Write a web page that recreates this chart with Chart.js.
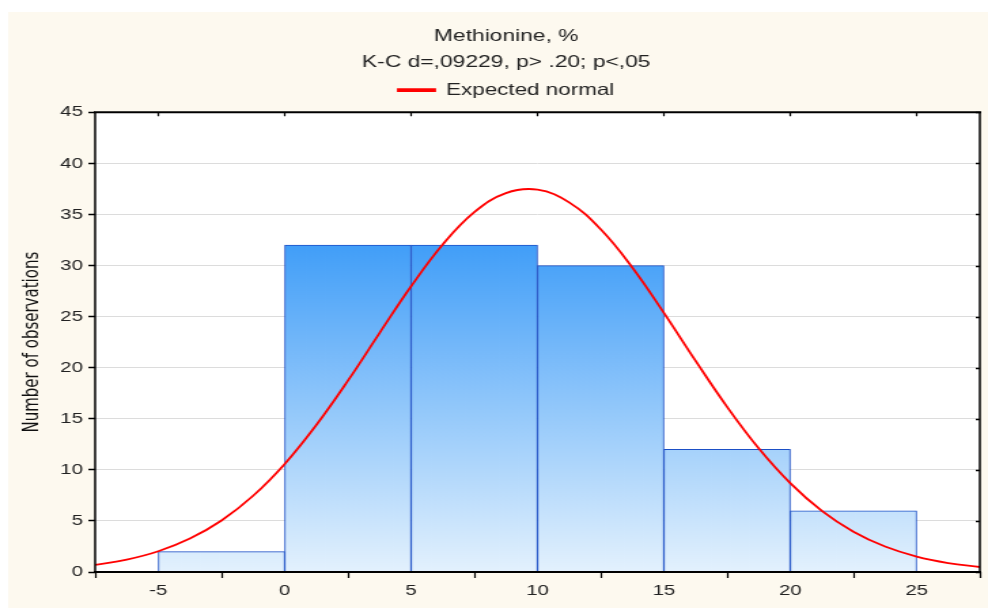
<!DOCTYPE html>
<html>
<head>
<meta charset="utf-8">
<script src="https://cdn.jsdelivr.net/npm/chart.js@4.4.1/dist/chart.umd.min.js"></script>
<style>
  html, body { margin: 0; padding: 0; background: #fff; overflow: hidden; }
  #wrap { width: 988px; height: 608px; overflow: hidden; }
  /* the original picture is stretched sideways, so draw narrow and widen */
  #histChart { transform-origin: 0 0; transform: scaleX(1.359); }
</style>
</head>
<body>
<div id="wrap"><canvas id="histChart" width="727" height="608"></canvas></div>
<script>
// histogram bins (centres, width 5) and counts
const binCenters = [-2.5, 2.5, 7.5, 12.5, 17.5, 22.5];
const counts = [2, 32, 32, 30, 12, 6];

// expected normal curve, every 1.25
const curveX = [-7.5, -6.25, -5, -3.75, -2.5, -1.25, 0, 1.25, 2.5, 3.75, 5, 6.25, 7.5, 8.75, 10, 11.25, 12.5, 13.75, 15, 16.25, 17.5, 18.75, 20, 21.25, 22.5, 23.75, 25, 26.25, 27.5];
const curveY = [0.69, 1.21, 2.03, 3.27, 5.04, 7.46, 10.58, 14.39, 18.73, 23.39, 27.97, 32.06, 35.23, 37.09, 37.43, 36.19, 33.55, 29.81, 25.37, 20.69, 16.17, 12.11, 8.70, 5.98, 3.94, 2.49, 1.51, 0.88, 0.49];

const xTicks = [-5, 0, 5, 10, 15, 20, 25];
const yTicks = [0, 5, 10, 15, 20, 25, 30, 35, 40, 45];

const font = "'Liberation Sans', Arial, sans-serif";

const panelBg = {
  id: 'panelBg',
  beforeDraw(chart) {
    const ctx = chart.ctx;
    ctx.save();
    ctx.fillStyle = '#fdf9ef';
    ctx.fillRect(6, 12, chart.width - 6, chart.height - 12);
    const a = chart.chartArea;
    ctx.fillStyle = '#ffffff';
    ctx.fillRect(a.left, a.top, a.right - a.left, a.bottom - a.top);
    ctx.restore();
  }
};

// frame round the plot, with inward ticks on top and right
const frame = {
  id: 'frame',
  afterDraw(chart) {
    const ctx = chart.ctx, a = chart.chartArea;
    const xs = chart.scales.x, ys = chart.scales.y;
    ctx.save();
    ctx.strokeStyle = '#000';
    ctx.beginPath();
    ctx.lineWidth = 2;
    ctx.moveTo(a.left - 1, a.top);
    ctx.lineTo(a.right + 1, a.top);
    ctx.moveTo(a.left - 1, a.bottom);
    ctx.lineTo(a.right + 1, a.bottom);
    ctx.stroke();
    ctx.beginPath();
    ctx.lineWidth = 1.5;
    ctx.moveTo(a.left, a.top);
    ctx.lineTo(a.left, a.bottom);
    ctx.moveTo(a.right, a.top);
    ctx.lineTo(a.right, a.bottom);
    ctx.stroke();
    ctx.beginPath();
    ctx.lineWidth = 1.2;
    xTicks.forEach(v => {
      const px = xs.getPixelForValue(v);
      ctx.moveTo(px, a.top);
      ctx.lineTo(px, a.top + 4);
    });
    ctx.stroke();
    ctx.beginPath();
    ctx.lineWidth = 1.5;
    yTicks.forEach(v => {
      const py = Math.round(ys.getPixelForValue(v)) + 0.5;
      ctx.moveTo(a.right, py);
      ctx.lineTo(a.right - 3, py);
    });
    ctx.stroke();
    ctx.restore();
  }
};

const ctx = document.getElementById('histChart').getContext('2d');
new Chart(ctx, {
  type: 'bar',
  data: {
    datasets: [
      {
        type: 'line',
        label: 'Expected normal',
        data: curveX.map((x, i) => ({x: x, y: curveY[i]})),
        borderColor: '#ff0000',
        backgroundColor: '#ff0000',
        borderWidth: 1.8,
        pointRadius: 0,
        tension: 0.4,
        fill: false,
        order: 0
      },
      {
        label: 'Observations',
        data: binCenters.map((x, i) => ({x: x, y: counts[i]})),
        backgroundColor: (c) => {
          const chart = c.chart;
          if (!chart.chartArea) return '#8cc4fa';
          const top = chart.scales.y.getPixelForValue(Math.max(...counts));
          const g = chart.ctx.createLinearGradient(0, top, 0, chart.chartArea.bottom);
          g.addColorStop(0, '#419ef8');
          g.addColorStop(1, '#e3f1fd');
          return g;
        },
        borderColor: '#1b4fc6',
        borderWidth: 1,
        barPercentage: 1,
        categoryPercentage: 1,
        order: 1
      }
    ]
  },
  options: {
    responsive: false,
    animation: false,
    layout: { padding: { left: 24, right: 6, top: 0, bottom: 0 } },
    plugins: {
      title: {
        display: true,
        text: 'Methionine, %',
        color: '#222',
        font: { family: font, size: 16.8, weight: 'normal' },
        padding: { top: 26, bottom: 6.5 }
      },
      subtitle: {
        display: true,
        text: 'K-C d=,09229, p> .20; p<,05',
        color: '#222',
        font: { family: font, size: 16.8, weight: 'normal' },
        padding: { top: 0, bottom: 0 }
      },
      legend: {
        display: true,
        labels: {
          filter: (item) => item.text === 'Expected normal',
          boxWidth: 27,
          boxHeight: 2,
          color: '#222',
          font: { family: font, size: 16.5 },
          padding: 9
        }
      },
      tooltip: { enabled: false }
    },
    scales: {
      x: {
        type: 'linear',
        min: -7.5,
        max: 27.5,
        offset: false,
        afterBuildTicks: (s) => { s.ticks = xTicks.map(v => ({value: v})); },
        afterFit: (s) => { s.height = 36; },
        ticks: {
          color: '#222',
          font: { family: font, size: 15 },
          padding: 4,
          maxRotation: 0
        },
        grid: { drawOnChartArea: false, tickLength: 6, tickColor: '#000', tickWidth: 1.2 },
        border: { display: false }
      },
      // empty strip between the legend and the plot
      xTop: {
        type: 'linear',
        position: 'top',
        display: true,
        afterFit: (s) => { s.height = 4; },
        ticks: { display: false },
        grid: { display: false },
        border: { display: false }
      },
      y: {
        min: 0,
        max: 45,
        afterBuildTicks: (s) => { s.ticks = yTicks.map(v => ({value: v})); },
        afterFit: (s) => { s.width = 46; },
        title: {
          display: true,
          text: 'Number of observations',
          color: '#111',
          font: { family: "'DejaVu Sans', sans-serif", size: 15 },
          padding: { top: -8.7, bottom: 0 }
        },
        ticks: {
          color: '#222',
          font: { family: font, size: 15 },
          padding: 4
        },
        grid: { color: '#dcdcdc', lineWidth: 1, tickLength: 5, tickColor: '#000', tickWidth: 1.5 },
        border: { display: false }
      }
    }
  },
  plugins: [panelBg, frame]
});
</script>
</body>
</html>
